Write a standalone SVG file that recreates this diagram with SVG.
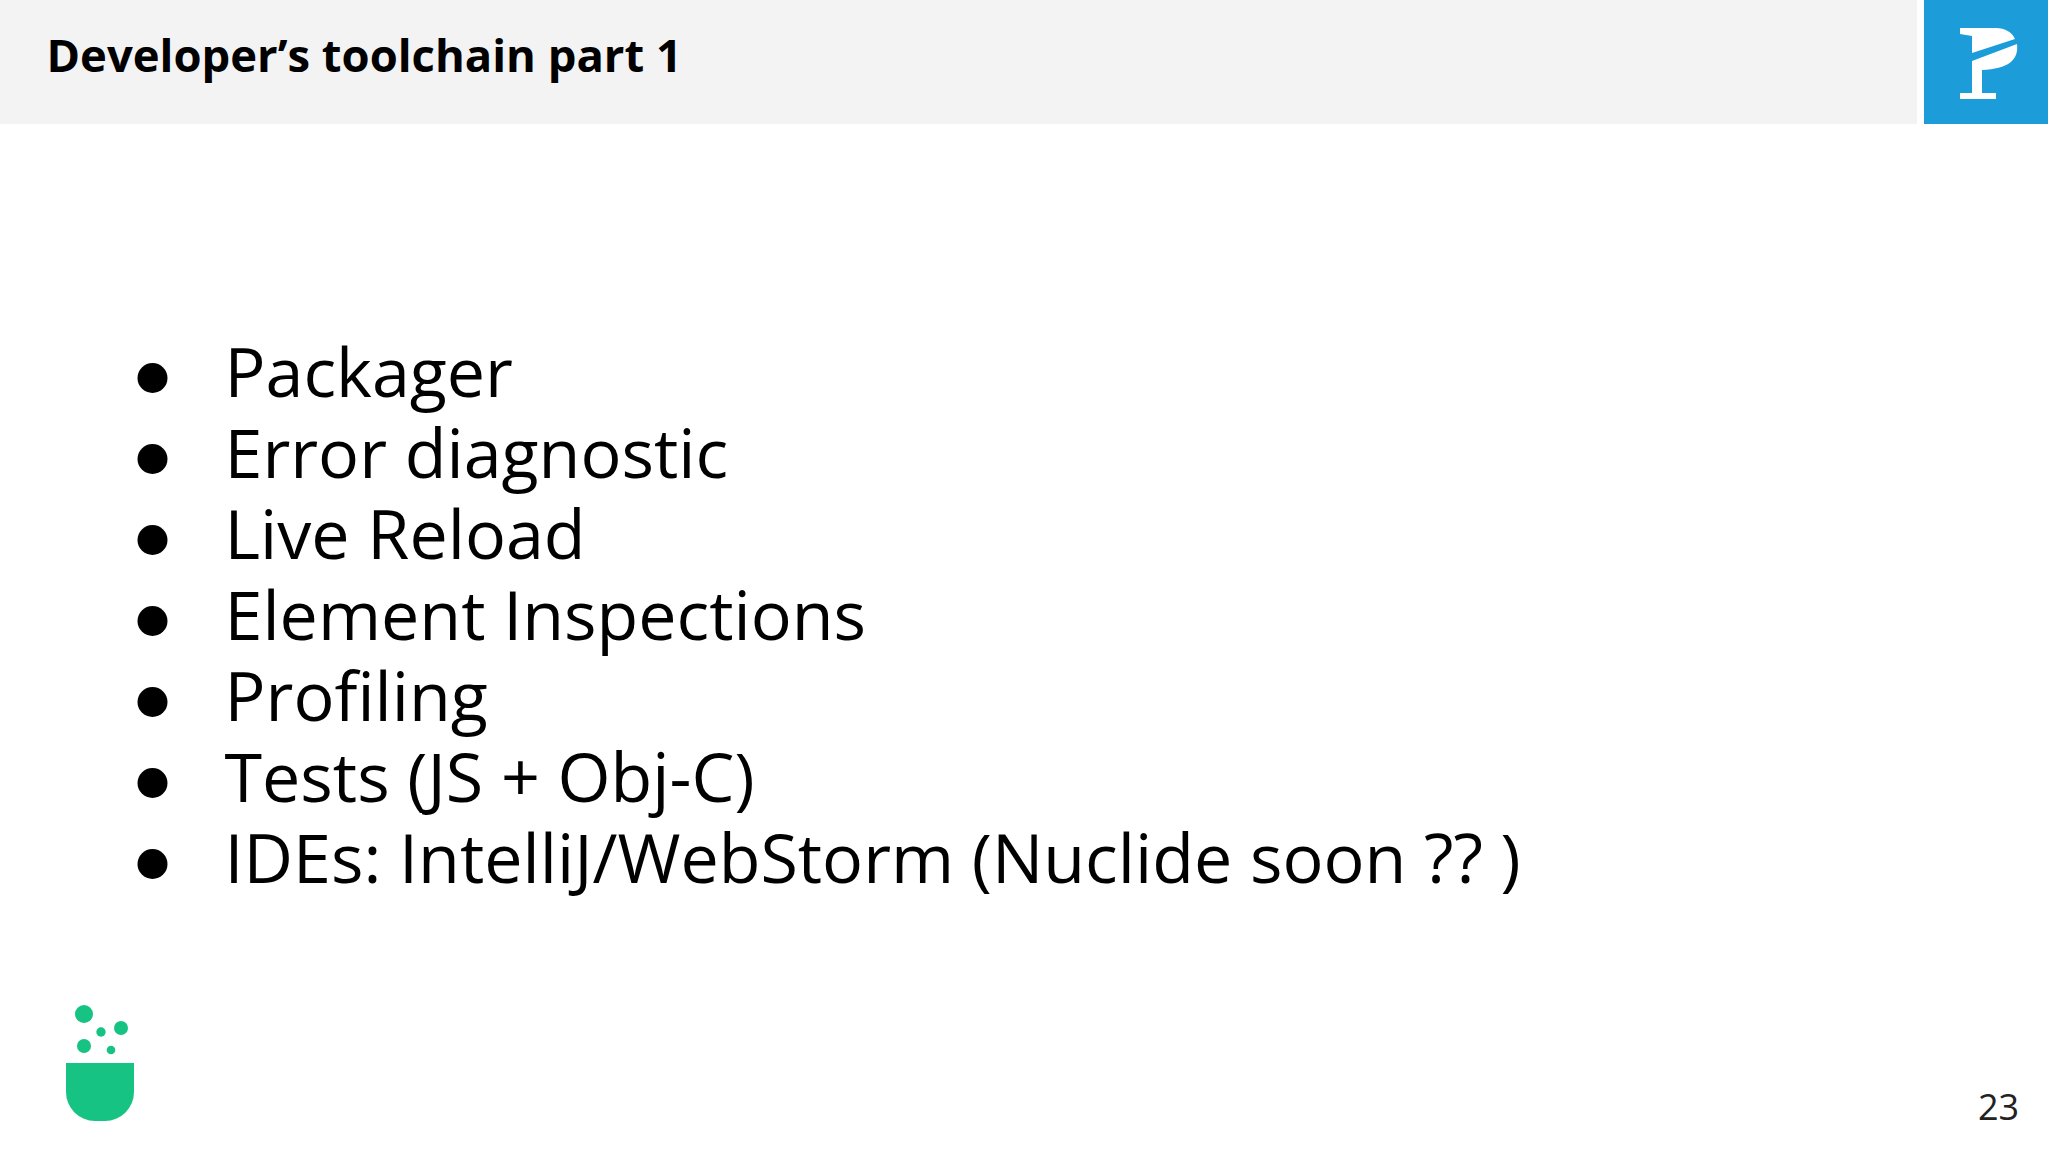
<svg xmlns="http://www.w3.org/2000/svg" width="2048" height="1152" viewBox="0 0 2048 1152">
<style>
.b{font-family:"Open Sans","Noto Sans",sans-serif;font-size:68.2px;fill:#000}
.d{fill:#000}
.g{fill:#17c382}
</style>
<rect width="2048" height="1152" fill="#fff"/>
<rect id="header" width="1917" height="124" fill="#f3f3f3"/>
<text id="title" x="46.5" y="72" font-family="'Open Sans','Noto Sans',sans-serif" font-weight="700" font-size="45.4" fill="#000">Developer’s toolchain part 1</text>
<g id="logo-p">
<rect x="1924" width="124" height="124" fill="#1c9dd9"/>
<path d="M1960 28H1996C2005 28 2012 32 2015 39L1972 53V36L1960 34Z M1972 61L2017 44C2019 60 2008 69 1982 70V93H1996V99H1960V93H1972Z" fill="#fff"/>
</g>
<g id="bullets">
<circle class="d" cx="152.5" cy="378" r="15"/>
<circle class="d" cx="152.5" cy="459" r="15"/>
<circle class="d" cx="152.5" cy="540" r="15"/>
<circle class="d" cx="152.5" cy="621" r="15"/>
<circle class="d" cx="152.5" cy="702" r="15"/>
<circle class="d" cx="152.5" cy="783" r="15"/>
<circle class="d" cx="152.5" cy="864" r="15"/>
</g>
<g id="list">
<text class="b" x="224.5" y="397">Packager</text>
<text class="b" x="224.5" y="478">Error diagnostic</text>
<text class="b" x="224.5" y="559">Live Reload</text>
<text class="b" x="224.5" y="640">Element Inspections</text>
<text class="b" x="224.5" y="721">Profiling</text>
<text class="b" x="224.5" y="802">Tests (JS + Obj-C)</text>
<text class="b" x="224.5" y="883">IDEs: IntelliJ/WebStorm (Nuclide soon ?? )</text>
</g>
<g id="logo-flask">
<circle class="g" cx="84" cy="1014" r="9"/>
<circle class="g" cx="101" cy="1032" r="4.7"/>
<circle class="g" cx="121" cy="1028" r="7"/>
<circle class="g" cx="84" cy="1046" r="7"/>
<circle class="g" cx="111" cy="1050" r="4.3"/>
<path class="g" d="M66 1063H134V1092A29 29 0 0 1 105 1121H95A29 29 0 0 1 66 1092Z"/>
</g>
<text id="page" x="1978" y="1120" font-family="'Open Sans','Noto Sans',sans-serif" font-size="36" fill="#222">23</text>
</svg>
